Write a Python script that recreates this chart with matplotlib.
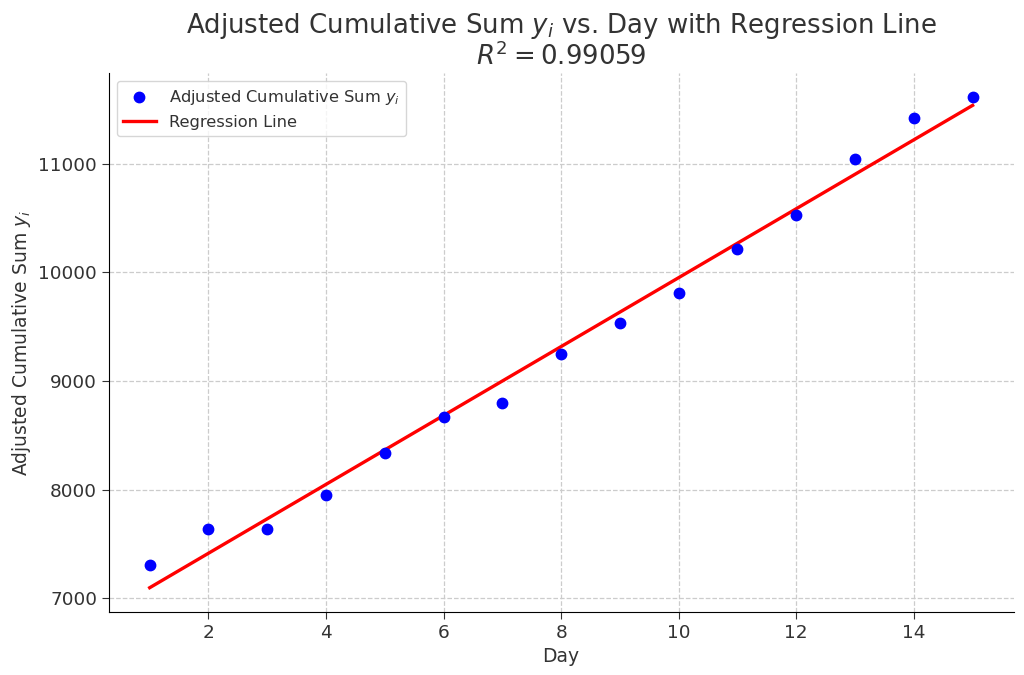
import numpy as np
import matplotlib
matplotlib.use("Agg")
import matplotlib.pyplot as plt

days = np.arange(1, 16)
y_values = [7309, 7640, 7640, 7955, 8338, 8665, 8793, 9245, 9536,
            9813, 10210, 10529, 11043, 11424, 11609]
r2_text = "0.99059"

plt.rcParams['text.color'] = '#333333'
plt.rcParams['axes.labelcolor'] = '#333333'
plt.rcParams['xtick.color'] = '#333333'
plt.rcParams['ytick.color'] = '#333333'
plt.rcParams['xtick.major.size'] = 4.7
plt.rcParams['ytick.major.size'] = 4.7

fig, ax = plt.subplots(figsize=(10.24, 6.75), dpi=100)
fig.subplots_adjust(left=0.106, right=0.99, top=0.892, bottom=0.093)

coef = np.polyfit(days, y_values, 1)
fit = np.polyval(coef, days)

ax.scatter(days, y_values, color='blue', s=56, zorder=3,
           label='Adjusted Cumulative Sum $y_i$')
ax.plot(days, fit, color='red', lw=2.4, zorder=2, label='Regression Line')

ax.set_title('Adjusted Cumulative Sum $y_i$ vs. Day with Regression Line\n$R^2 = $' + r2_text,
             fontsize=18.7, pad=6, linespacing=1.05)
ax.set_xlabel('Day', fontsize=13.5)
ax.set_ylabel('Adjusted Cumulative Sum $y_i$', fontsize=13.5)
ax.tick_params(labelsize=13.3)
ax.grid(True, linestyle='--', color='#cccccc', linewidth=0.9)
ax.spines['top'].set_visible(False)
ax.spines['right'].set_visible(False)
ax.legend(loc='upper left', fontsize=11.7)

fig.savefig('out.png', dpi=100)
